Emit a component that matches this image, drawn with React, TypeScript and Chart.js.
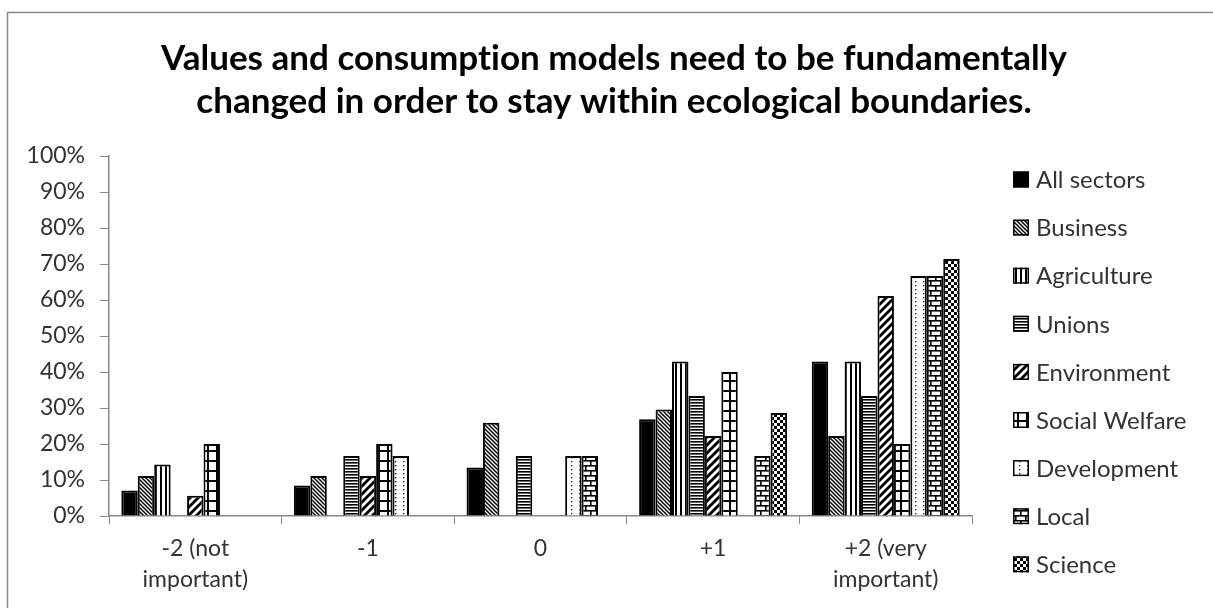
import React, { useEffect, useRef } from "react";
import { Chart, registerables } from "chart.js";

Chart.register(...registerables);

const titleLines = [
  "Values and consumption models need to be fundamentally",
  "changed in order to stay within ecological boundaries.",
];

const categories: (string | string[])[] = [
  ["-2 (not", "important)"],
  "-1",
  "0",
  "+1",
  ["+2 (very", "important)"],
];

const sectorNames = [
  "All sectors",
  "Business",
  "Agriculture",
  "Unions",
  "Environment",
  "Social Welfare",
  "Development",
  "Local",
  "Science",
];

const allSectors = [7.1, 8.5, 13.5, 26.9, 42.9];
const business = [11.1, 11.1, 25.9, 29.6, 22.2];
const agriculture = [14.3, 0, 0, 42.9, 42.9];
const unions = [0, 16.7, 16.7, 33.3, 33.3];
const environment = [5.6, 11.1, 0, 22.2, 61.1];
const socialWelfare = [20, 20, 0, 40, 20];
const development = [0, 16.7, 16.7, 0, 66.7];
const local = [0, 0, 16.7, 16.7, 66.7];
const science = [0, 0, 0, 28.6, 71.4];

const yTicks = [0, 10, 20, 30, 40, 50, 60, 70, 80, 90, 100];

const seriesValues = [
  allSectors,
  business,
  agriculture,
  unions,
  environment,
  socialWelfare,
  development,
  local,
  science,
];

const patternKinds = [
  "solid",
  "dnDiag",
  "vert",
  "horiz",
  "upDiag",
  "grid",
  "dots",
  "brick",
  "check",
];

function makePattern(kind: string): CanvasPattern | string {
  if (kind === "solid") return "#000";
  const c = document.createElement("canvas");
  const g = c.getContext("2d")!;
  const setup = (w: number, h: number) => {
    c.width = w;
    c.height = h;
    g.fillStyle = "#fff";
    g.fillRect(0, 0, w, h);
    g.fillStyle = "#000";
    g.strokeStyle = "#000";
  };
  switch (kind) {
    case "dnDiag": {
      setup(4, 4);
      g.lineWidth = 1.5;
      for (let k = -2; k <= 2; k++) {
        g.beginPath();
        g.moveTo(k * 4 - 2, -2);
        g.lineTo(k * 4 + 6, 6);
        g.stroke();
      }
      break;
    }
    case "vert": {
      setup(5, 1);
      g.fillRect(0, 0, 2, 1);
      break;
    }
    case "horiz": {
      setup(1, 3);
      g.fillRect(0, 0, 1, 1);
      g.fillStyle = "#666";
      g.fillRect(0, 1, 1, 1);
      break;
    }
    case "upDiag": {
      setup(8, 8);
      g.lineWidth = 2.8;
      for (let k = -2; k <= 2; k++) {
        g.beginPath();
        g.moveTo(k * 8 - 4, 12);
        g.lineTo(k * 8 + 12, -4);
        g.stroke();
      }
      break;
    }
    case "grid": {
      setup(9, 10);
      g.fillRect(0, 0, 9, 2);
      g.fillRect(0, 0, 2, 10);
      break;
    }
    case "dots": {
      setup(8, 4);
      g.fillStyle = "#222";
      g.fillRect(3, 1, 1.3, 1.3);
      break;
    }
    case "brick": {
      setup(10, 10);
      g.fillRect(0, 0, 10, 1.6);
      g.fillRect(0, 5, 10, 1.6);
      g.fillRect(0, 0, 1.6, 5);
      g.fillRect(5, 5, 1.6, 5);
      break;
    }
    case "check": {
      setup(6, 6);
      g.fillRect(0, 0, 3, 3);
      g.fillRect(3, 3, 3, 3);
      break;
    }
  }
  const ctx = document.createElement("canvas").getContext("2d")!;
  return ctx.createPattern(c, "repeat") as CanvasPattern;
}

const FONT = "Lato, 'Open Sans', sans-serif";

export default function App() {
  const ref = useRef<HTMLCanvasElement | null>(null);

  useEffect(() => {
    document.body.style.margin = "0";
    const canvas = ref.current!;
    const fills = patternKinds.map(makePattern);

    const framePlugin = {
      id: "frame",
      beforeDraw(chart: any) {
        const ctx = chart.ctx;
        ctx.save();
        ctx.fillStyle = "#fff";
        ctx.fillRect(0, 0, chart.width, chart.height);
        ctx.strokeStyle = "#878787";
        ctx.lineWidth = 1.5;
        ctx.strokeRect(7.5, 12.5, chart.width + 20, chart.height + 20);
        ctx.restore();
      },
    };

    const titlePlugin = {
      id: "titleText",
      afterDraw(chart: any) {
        const ctx = chart.ctx;
        ctx.save();
        ctx.font = `bold 35px ${FONT}`;
        try {
          (ctx as any).letterSpacing = "0.01px";
        } catch (e) {}
        ctx.fillStyle = "#000";
        ctx.textAlign = "center";
        ctx.textBaseline = "alphabetic";
        ctx.fillText(titleLines[0], 614, 70);
        ctx.fillText(titleLines[1], 614, 113);
        ctx.restore();
      },
    };

    const legendPlugin = {
      id: "sideLegend",
      afterDraw(chart: any) {
        const ctx = chart.ctx;
        const x0 = chart.chartArea.right + 41;
        ctx.save();
        ctx.font = `24px ${FONT}`;
        ctx.textBaseline = "middle";
        ctx.textAlign = "left";
        sectorNames.forEach((name, i) => {
          const y = 179.5 + 48.1 * i;
          ctx.fillStyle = fills[i];
          ctx.fillRect(x0, y - 8, 16, 16);
          ctx.strokeStyle = "#000";
          ctx.lineWidth = 1.5;
          ctx.strokeRect(x0 + 0.75, y - 7.25, 14.5, 14.5);
          ctx.fillStyle = "#333";
          ctx.fillText(name, x0 + 23, y + 1);
        });
        ctx.restore();
      },
    };

    const chart = new Chart(canvas, {
      type: "bar",
      data: {
        labels: categories,
        datasets: sectorNames.map((name, i) => ({
          label: name,
          data: seriesValues[i],
          backgroundColor: fills[i] as any,
          borderColor: "#000",
          borderWidth: 2,
          borderSkipped: "bottom",
          categoryPercentage: 9 / 10.5,
          barPercentage: 1,
        })),
      },
      options: {
        responsive: false,
        animation: false,
        layout: { padding: { left: 10, top: 156, right: 241, bottom: 0 } },
        plugins: {
          legend: { display: false },
          title: { display: false },
          tooltip: { enabled: false },
        },
        scales: {
          x: {
            grid: {
              display: true,
              drawOnChartArea: false,
              drawTicks: true,
              tickLength: 8,
              color: "#878787",
              offset: true,
            },
            border: { color: "#878787", width: 1.5 },
            ticks: {
              color: "#333",
              font: { family: FONT, size: 23, lineHeight: 1.35 },
              padding: 9,
              maxRotation: 0,
              autoSkip: false,
            },
            afterFit(scale: any) {
              scale.height = 92;
            },
          },
          y: {
            min: 0,
            max: 100,
            afterBuildTicks(scale: any) {
              scale.ticks = yTicks.map((v) => ({ value: v }));
            },
            grid: {
              display: true,
              drawOnChartArea: false,
              drawTicks: true,
              tickLength: 9,
              color: "#878787",
            },
            border: { color: "#878787", width: 1.5 },
            ticks: {
              color: "#333",
              font: { family: FONT, size: 23 },
              padding: 15,
              callback: (v: any) => `${v}%`,
            },
            afterFit(scale: any) {
              scale.width = 99;
            },
          },
        },
      },
      plugins: [framePlugin, titlePlugin, legendPlugin],
    });

    return () => chart.destroy();
  }, []);

  return (
    <div style={{ position: "absolute", left: 0, top: 0, width: 1213, height: 608 }}>
      <canvas ref={ref} width={1213} height={608} />
    </div>
  );
}
